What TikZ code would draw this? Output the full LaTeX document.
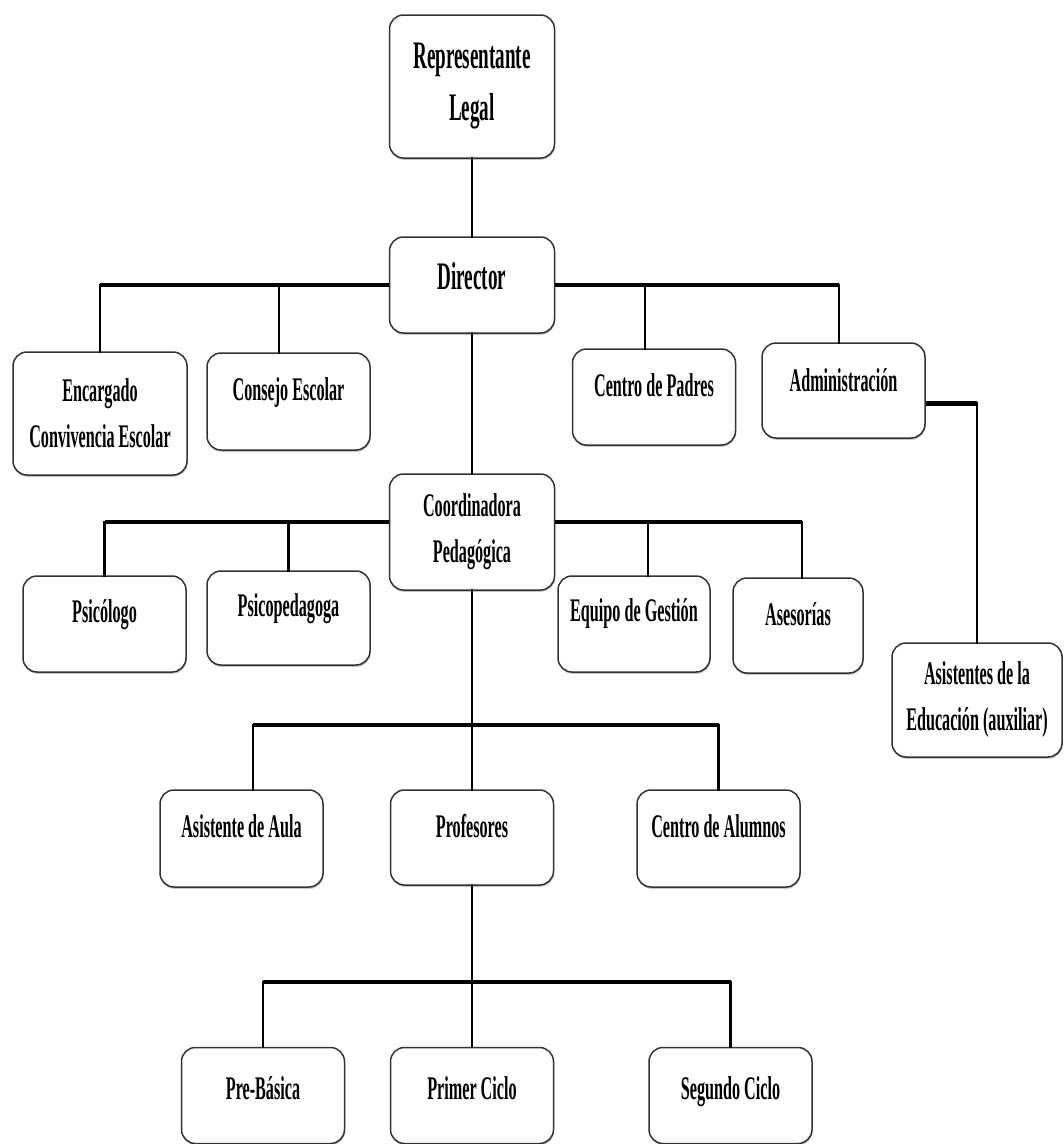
\documentclass[tikz,border=0pt]{standalone}
\usepackage{fontspec}
\setmainfont[FakeStretch=0.49]{Liberation Serif}
\usetikzlibrary{positioning, shapes, shadows}

\begin{document}
\begin{tikzpicture}[
  x=1pt, y=-1pt,
  unit/.style={rectangle, rounded corners=14pt, draw=black!80, line width=1.5pt, fill=white,
    drop shadow={shadow xshift=0.6pt, shadow yshift=-1.8pt, fill=black!45},
    align=center, font=\bfseries\fontsize{33}{46}\selectfont,
    minimum width=163pt, minimum height=96pt, inner sep=4pt},
  topunit/.style={unit, font=\bfseries\fontsize{39}{52}\selectfont},
  textup/.style={text depth=#1},
  bus/.style={line width=4.5pt},
  stem/.style={line width=2.6pt, line cap=rect},
]
\useasboundingbox (0,0) rectangle (1064,1144);

%%% Nodes
\node[topunit, minimum width=165pt, minimum height=143pt] (rep) at (472,86.5) {Representante\\Legal};
\node[topunit, textup=18pt, minimum width=165pt] (director) at (472,285) {Director};

\node[unit, minimum width=174pt, minimum height=123pt] (encargado) at (100,413.5) {Encargado\\Convivencia Escolar};
\node[unit, textup=24pt, minimum height=97pt] (consejo) at (288.5,401.5) {Consejo Escolar};
\node[unit, textup=24pt] (padres) at (654,397) {Centro de Padres};
\node[unit, textup=20pt, minimum height=95pt] (admin) at (843.5,390.5) {Administración};

\node[unit, textup=8pt, minimum width=165pt, minimum height=116pt] (coord) at (472,532) {Coordinadora\\Pedagógica};
\node[unit, textup=26pt] (psicologo) at (104.5,624) {Psicólogo};
\node[unit, textup=26pt, minimum height=94pt] (psicoped) at (288.5,618) {Psicopedagoga};
\node[unit, textup=28pt, minimum width=152pt] (equipo) at (634,624) {Equipo de Gestión};
\node[unit, textup=22pt, minimum width=130pt, minimum height=95pt] (asesorias) at (798,625.5) {Asesorías};
\node[unit, minimum width=170pt, minimum height=114pt] (asistentes) at (977,700) {Asistentes de la\\Educación (auxiliar)};

\node[unit, textup=24pt, minimum height=97pt] (aula) at (241.5,838.5) {Asistente de Aula};
\node[unit, textup=24pt, minimum height=95pt] (profesores) at (472,837.5) {Profesores};
\node[unit, textup=24pt, minimum height=97pt] (alumnos) at (718.5,838.5) {Centro de Alumnos};

\begin{scope}[every node/.append style={textup=15pt, minimum height=87pt}]
  \node[unit] (prebasica) at (263,1095.5) {Pre-Básica};
  \node[unit] (primer) at (472,1095.5) {Primer Ciclo};
  \node[unit] (segundo) at (730.5,1095.5) {Segundo Ciclo};
\end{scope}

%%% Connection points
\coordinate (consejoin) at ([xshift=-9.5pt]consejo.north);
\coordinate (padresin) at ([xshift=-9pt]padres.north);
\coordinate (adminin) at ([xshift=-4.5pt]admin.north);
\coordinate (adminout) at ([yshift=-13pt]admin.east);
\coordinate (coordL) at ([yshift=10pt]coord.west);
\coordinate (coordR) at ([yshift=10pt]coord.east);
\coordinate (equipoin) at ([xshift=14pt]equipo.north);
\coordinate (asesoriasin) at ([xshift=4pt]asesorias.north);
\coordinate (aulain) at ([xshift=11.5pt]aula.north);
\coordinate (lvl3) at (472,725);
\coordinate (lvl4) at (472,982);

%%% Connectors
\draw[stem] (rep) -- (director);
\draw[bus] (director.west) -- (director.west -| encargado.north);
\draw[bus] (director.east) -- (director.east -| adminin);
\draw[stem] (encargado.north) -- (encargado.north |- director.west);
\draw[stem] (consejoin) -- (consejoin |- director.west);
\draw[stem] (padresin) -- (padresin |- director.east);
\draw[stem] (adminin) -- (adminin |- director.east);

\draw[bus] (adminout) -- (adminout -| asistentes.north);
\draw[stem] (adminout -| asistentes.north) -- (asistentes.north);

\draw[stem] (director) -- (coord);
\draw[bus] (coordL) -- (coordL -| psicologo.north);
\draw[bus] (coordR) -- (coordR -| asesoriasin);
\draw[stem] (psicologo.north) -- (psicologo.north |- coordL);
\draw[stem] (psicoped.north) -- (psicoped.north |- coordL);
\draw[stem] (equipoin) -- (equipoin |- coordR);
\draw[stem] (asesoriasin) -- (asesoriasin |- coordR);

\draw[stem] (coord) -- (profesores);
\draw[bus] (lvl3 -| aulain) -- (lvl3 -| alumnos.north);
\draw[stem] (aulain) -- (aulain |- lvl3);
\draw[stem] (alumnos.north) -- (alumnos.north |- lvl3);

\draw[stem] (profesores) -- (primer);
\draw[bus] (lvl4 -| prebasica.north) -- (lvl4 -| segundo.north);
\draw[stem] (prebasica.north) -- (prebasica.north |- lvl4);
\draw[stem] (segundo.north) -- (segundo.north |- lvl4);

\end{tikzpicture}
\end{document}
